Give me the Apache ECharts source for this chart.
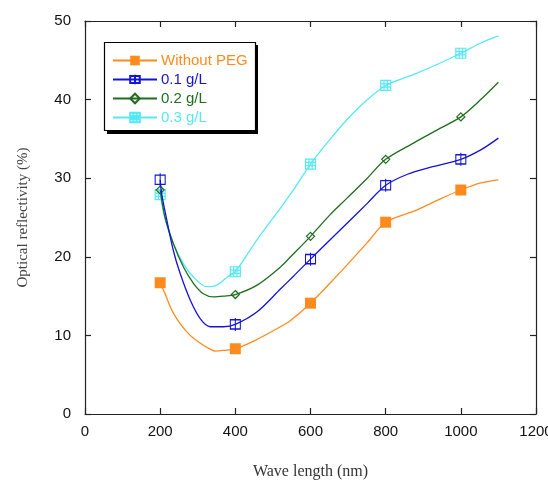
<!DOCTYPE html>
<html>
<head>
<meta charset="utf-8">
<script src="https://cdn.jsdelivr.net/npm/echarts@6/dist/echarts.min.js"></script>
<style>html,body{margin:0;padding:0;background:#fff}#c{width:548px;height:481px}</style>
</head>
<body>
<div id="c"></div>
<script>
// Data
const seriesNames = ['Without PEG', '0.1 g/L', '0.2 g/L', '0.3 g/L'];
const markerWaves = [200, 400, 600, 800, 1000];
const xTicks = [0, 200, 400, 600, 800, 1000, 1200];
const yTicks = [0, 10, 20, 30, 40, 50];

const waveNoPEG = [200,213,231,253,280,307,333,347,370,400,450,520,547,600,653,698,751,800,875,947,1000,1053,1100];
const reflNoPEG = [16.7,15.3,13.2,11.5,10.0,9.0,8.25,8.0,8.1,8.3,9.3,11.1,11.9,14.1,16.7,19.0,21.8,24.4,25.8,27.4,28.5,29.4,29.8];

const wave01 = [200,204,218,235,253,280,307,333,369,400,458,520,556,600,653,698,751,800,858,920,1000,1053,1100];
const refl01 = [29.8,28.0,24.6,20.8,17.9,14.5,12.1,11.1,11.1,11.4,13.0,15.9,17.6,19.7,22.2,24.3,26.8,29.1,30.5,31.4,32.4,33.6,35.1];

const wave02 = [200,213,235,262,289,315,342,369,400,458,520,547,600,653,698,751,800,875,947,1000,1053,1100];
const refl02 = [28.5,25.0,21.7,18.7,16.6,15.3,14.9,15.0,15.2,16.4,18.7,20.0,22.6,25.4,27.5,30.0,32.4,34.5,36.4,37.8,40.0,42.2];

const wave03 = [200,213,235,262,289,324,351,378,400,458,520,556,600,653,698,742,800,875,938,1000,1053,1100];
const refl03 = [27.9,24.8,21.7,19.1,17.4,16.2,16.4,17.4,18.1,22.2,26.2,28.6,31.8,35.0,37.5,39.6,41.8,43.2,44.5,45.9,47.2,48.1];

const colors = ['#FF8A1E', '#1414D2', '#1E6E1E', '#55E8F5'];
const symbols = [
  'rect',
  'path://M0,2H10V12H0Z M5,0V14',
  'diamond',
  'path://M0,0H10V10H0Z M3.33,0V10 M6.67,0V10 M0,3.33H10 M0,6.67H10'
];
const symbolSizes = [11, [10, 13], 8, 10];

function build(waves, refl) {
  return waves.map((w, i) => {
    const item = { value: [w, refl[i]] };
    if (markerWaves.indexOf(w) < 0) item.symbol = 'none';
    return item;
  });
}
const allData = [build(waveNoPEG, reflNoPEG), build(wave01, refl01), build(wave02, refl02), build(wave03, refl03)];

const chart = echarts.init(document.getElementById('c'), null, { renderer: 'canvas' });
const axisLine = { show: true, onZero: false, lineStyle: { color: '#222', width: 1.2 } };
const tick = { show: true, inside: true, length: 6, lineStyle: { color: '#222', width: 1.2 } };
const labelStyle = { fontFamily: 'Liberation Sans', fontSize: 15, color: '#111', formatter: v => String(v) };

chart.setOption({
  animation: false,
  backgroundColor: '#fff',
  grid: { left: 85, right: 12, top: 21, bottom: 67, outerBoundsMode: 'none', containLabel: false },
  graphic: [
    { type: 'rect', z: 50, shape: { x: 107, y: 45, width: 151, height: 89 }, style: { fill: '#000' } },
    { type: 'rect', z: 51, shape: { x: 104.5, y: 42.5, width: 151, height: 88 }, style: { fill: '#fff', stroke: '#000', lineWidth: 1.2 } }
  ],
  legend: {
    z: 60,
    orient: 'vertical',
    left: 104, top: 44,
    padding: [9, 8, 8, 8],
    itemWidth: 44, itemHeight: 12, itemGap: 4,
    textStyle: { fontFamily: 'Liberation Sans', fontSize: 15, padding: [0, 0, 0, -1] },
    data: seriesNames.map((n, i) => ({ name: n, textStyle: { color: colors[i] } }))
  },
  xAxis: [{
    type: 'value', min: xTicks[0], max: xTicks[xTicks.length - 1], interval: 200,
    position: 'bottom',
    axisLine, axisTick: tick, splitLine: { show: false },
    axisLabel: Object.assign({ margin: 10 }, labelStyle),
    name: 'Wave length (nm)', nameLocation: 'middle', nameGap: 50,
    nameTextStyle: { fontFamily: 'Liberation Serif', fontSize: 16, color: '#333' }
  }, {
    type: 'value', min: 0, max: 1200, interval: 200, position: 'top',
    axisLine, axisTick: tick, splitLine: { show: false }, axisLabel: { show: false }
  }],
  yAxis: [{
    type: 'value', min: yTicks[0], max: yTicks[yTicks.length - 1], interval: 10,
    position: 'left',
    axisLine, axisTick: tick, splitLine: { show: false },
    axisLabel: Object.assign({ margin: 14 }, labelStyle),
    name: 'Optical reflectivity (%)', nameLocation: 'middle', nameGap: 54,
    nameTextStyle: { fontFamily: 'Liberation Serif', fontSize: 15, color: '#444' }
  }, {
    type: 'value', min: 0, max: 50, interval: 10, position: 'right',
    axisLine, axisTick: tick, splitLine: { show: false }, axisLabel: { show: false }
  }],
  series: seriesNames.map((n, i) => ({
    name: n,
    type: 'line',
    data: allData[i],
    smooth: 0.3,
    symbol: symbols[i],
    symbolSize: symbolSizes[i],
    showAllSymbol: true,
    z: 10 - i,
    lineStyle: { color: colors[i], width: 1.3 },
    itemStyle: i === 0
      ? { color: colors[i], borderColor: colors[i], borderWidth: 0 }
      : { color: 'rgba(255,255,255,0)', borderColor: colors[i], borderWidth: 1.2 },
    emphasis: { disabled: true }
  }))
});
</script>
</body>
</html>
